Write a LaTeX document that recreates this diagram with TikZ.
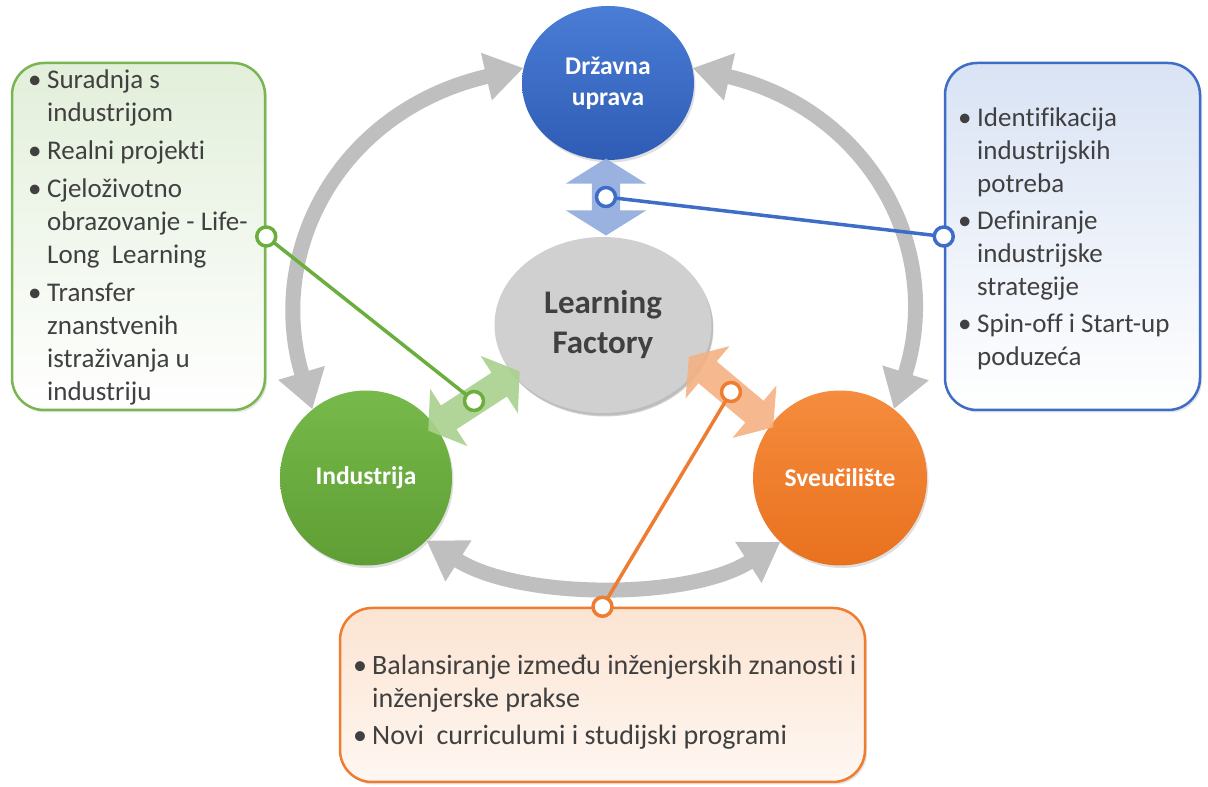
\documentclass[tikz,border=0pt]{standalone}
\usepackage{fontspec}
\setmainfont{Carlito}[Ligatures={NoCommon}]
\usetikzlibrary{arrows.meta,calc,shapes.geometric,shapes.arrows,shadows,positioning}
\definecolor{lfink}{HTML}{404040}
\definecolor{lfgray}{HTML}{BFBFBF}
\definecolor{lfcore}{HTML}{D0D0D0}
\definecolor{govtop}{HTML}{4A7DD6}
\definecolor{govbot}{HTML}{2F5CB4}
\definecolor{indtop}{HTML}{77B94A}
\definecolor{indbot}{HTML}{5E9E34}
\definecolor{unitop}{HTML}{F58C3E}
\definecolor{unibot}{HTML}{E9711E}
\definecolor{govline}{HTML}{3E6DC7}
\definecolor{indline}{HTML}{6AAE3E}
\definecolor{uniline}{HTML}{EE7D31}
\definecolor{govlink}{HTML}{8FAADC}
\definecolor{indlink}{HTML}{A9D18E}
\definecolor{unilink}{HTML}{F4B183}
\definecolor{govpale}{HTML}{D9E3F4}
\definecolor{indpale}{HTML}{E2EFDA}
\definecolor{unipale}{HTML}{FCE4D2}
\newcommand{\bul}{\makebox[19pt][l]{\textbullet}}

\begin{document}
\begin{tikzpicture}[x=1pt,y=1pt,line join=round,
  actor/.style={ellipse,inner sep=0pt,align=center,text=white,
    font=\fontsize{25.5}{31}\selectfont\bfseries,
    drop shadow={opacity=.25,shadow xshift=1.5pt,shadow yshift=-2.5pt}},
  infobox/.style={rectangle,rounded corners=32pt,line width=2.5pt,inner sep=0pt,
    bottom color=white,
    drop shadow={opacity=.2,shadow xshift=2pt,shadow yshift=-2.5pt}},
  listtext/.style={anchor=north west,inner sep=0pt,text=lfink,
    font=\fontsize{27}{33}\selectfont},
  flow/.style={draw=lfgray,line width=15pt,line cap=butt,
    {Triangle[width=46pt,length=38pt]}-{Triangle[width=46pt,length=38pt]}},
  linkarrow/.style={double arrow,inner xsep=0pt,inner ysep=14pt,
    minimum height=#1,fill opacity=.9},
  hub/.style={circle,draw,fill=white,line width=3.5pt,minimum size=19pt,inner sep=0pt},
  tie/.style={line width=3.5pt,line cap=round}]
\path[use as bounding box] (0,0) rectangle (1208,787);
\fill[white] (0,0) rectangle (1208,787);

% okviri s opisima
\node[infobox,draw=indline!90!white,top color=indpale,minimum width=253pt,minimum height=347pt] (indbox) at (138.5,550.5) {};
\node[infobox,draw=govline,top color=govpale,minimum width=255pt,minimum height=347pt] (govbox) at (1072.5,550.5) {};
\node[infobox,draw=uniline,top color=unipale,bottom color=unipale!30!white,minimum width=525pt,minimum height=174pt] (unibox) at (602.5,92) {};

\node[listtext] (indtext) at (28,722) {\begin{tabular}{@{}l@{}l@{}}
\bul & Suradnja s\\
 & industrijom\\[5pt]
\bul & Realni projekti\\[5pt]
\bul & Cjeloživotno\\
 & obrazovanje - Life-\\
 & Long\ \ Learning\\[5pt]
\bul & Transfer\\
 & znanstvenih\\
 & istraživanja u\\
 & industriju
\end{tabular}};
\node[listtext] (govtext) at (958,684) {\begin{tabular}{@{}l@{}l@{}}
\bul & Identifikacija\\
 & industrijskih\\
 & potreba\\[4pt]
\bul & Definiranje\\
 & industrijske\\
 & strategije\\[4pt]
\bul & Spin-off i Start-up\\
 & poduzeća
\end{tabular}};
\node[listtext,font=\fontsize{28}{33}\selectfont] (unitext) at (353,136) {\begin{tabular}{@{}l@{}l@{}}
\bul & Balansiranje između inženjerskih znanosti i\\
 & inženjerske prakse\\[4pt]
\bul & Novi\ \ curriculumi i studijski programi
\end{tabular}};

% sudionici
\node[actor,top color=govtop,bottom color=govbot,minimum width=172pt,minimum height=154pt] (gov) at (608,704) {Državna\\uprava};
\node[actor,top color=indtop,bottom color=indbot,minimum width=172pt,minimum height=175pt] (ind) at (366,309) {Industrija};
\node[actor,top color=unitop,bottom color=unibot,minimum width=174pt,minimum height=175pt] (uni) at (840,309) {Sveučilište};

% sivi tokovi izmedu sudionika
\draw[flow] (gov.170) .. controls (340,677) and (265,537) .. (ind.128);
\draw[flow] (gov.10) .. controls (870,677) and (945,537) .. (uni.52);
\draw[flow] (ind.-46) .. controls (520,187) and (690,187) .. (uni.227);

\node[actor,fill=lfcore,text=lfink,font=\fontsize{33}{40}\selectfont\bfseries,
  minimum width=217pt,minimum height=176pt,
  drop shadow={opacity=.35,shadow xshift=2pt,shadow yshift=-3.5pt}] (lf) at (603,462) {Learning\\Factory};

% dvosmjerne veze prema Learning Factory
\node[linkarrow=77pt,fill=govlink,rotate=90,double arrow head extend=26pt,double arrow tip angle=116] (govarr) at (606,590) {};
\node[linkarrow=109pt,fill=indlink,rotate=33,double arrow head extend=20pt,double arrow tip angle=109] (indarr) at (474,386) {};
\node[linkarrow=110pt,fill=unilink,rotate=-40,double arrow head extend=20pt,double arrow tip angle=109] (uniarr) at (731,395) {};

% oznake i spojnice
\node[hub,draw=govline] (govhub) at (govarr.center) {};
\node[hub,draw=indline] (indhub) at (indarr.center) {};
\node[hub,draw=uniline] (unihub) at (uniarr.center) {};
\node[hub,draw=govline] (govtab) at (govbox.west) {};
\node[hub,draw=indline] (indtab) at (indbox.east) {};
\node[hub,draw=uniline] (unitab) at (unibox.north) {};
\draw[tie,govline] (govhub) -- (govtab);
\draw[tie,indline] (indhub) -- (indtab);
\draw[tie,uniline] (unihub) -- (unitab);
\end{tikzpicture}
\end{document}
